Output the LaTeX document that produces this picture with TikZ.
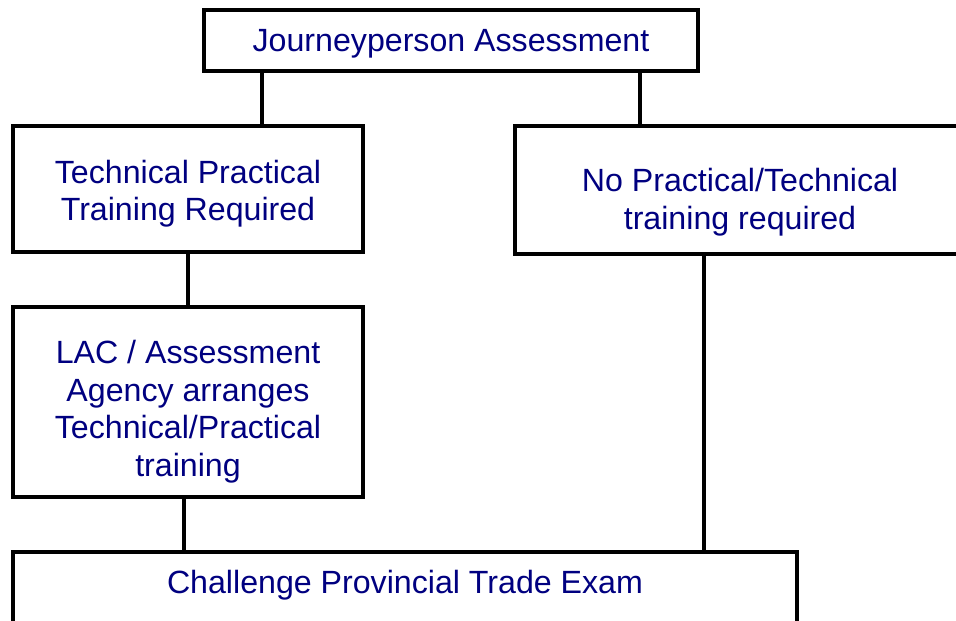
\documentclass[tikz,border=0pt]{standalone}
\usepackage{fontspec}
\setmainfont{Liberation Sans}
\usepackage{xcolor}
\definecolor{navytext}{RGB}{0,0,128}

\begin{document}
\begin{tikzpicture}[x=0.02cm, y=-0.02cm,
	box/.style={draw, line width=2.3pt, inner sep=0pt},
	txt/.style={text=navytext, align=center, inner sep=0pt, font=\fontsize{18.3}{21.4}\selectfont},
	link/.style={line width=2pt}]
	\useasboundingbox (0,0) rectangle (956,620);
	\clip (0,0) rectangle (956,620);
	\fill[white] (0,0) rectangle (956,620);
	% boxes
	\node (top) [box, minimum width=9.88cm, minimum height=1.22cm] at (451,40.5) {};
	\node (tech) [box, minimum width=7cm, minimum height=2.52cm] at (188,189) {};
	\node (nopr) [box, minimum width=9cm, minimum height=2.56cm] at (740,190) {};
	\node (lac) [box, minimum width=7cm, minimum height=3.8cm] at (188,402) {};
	\node (chal) [box, minimum width=15.68cm, minimum height=2.96cm] at (405,626) {};
	% texts
	\node (toptxt) [txt] at (451,44) {Journeyperson Assessment};
	\node (techtxt) [txt] at (188,193.5) {Technical Practical\\Training Required};
	\node (noprtxt) [txt] at (740,202) {No Practical/Technical\\training required};
	\node (lactxt) [txt] at (188,411.5) {LAC / Assessment\\Agency arranges\\Technical/Practical\\training};
	\node (chaltxt) [txt] at (405,585) {Challenge Provincial Trade Exam};
	% connectors
	\draw[link] (top.south -| 262,0) -- (tech.north -| 262,0);
	\draw[link] (top.south -| 640,0) -- (nopr.north -| 640,0);
	\draw[link] (tech) -- (lac);
	\draw[link] (lac.south -| 184,0) -- (chal.north -| 184,0);
	\draw[link] (nopr.south -| 704,0) -- (chal.north -| 704,0);
\end{tikzpicture}
\end{document}
